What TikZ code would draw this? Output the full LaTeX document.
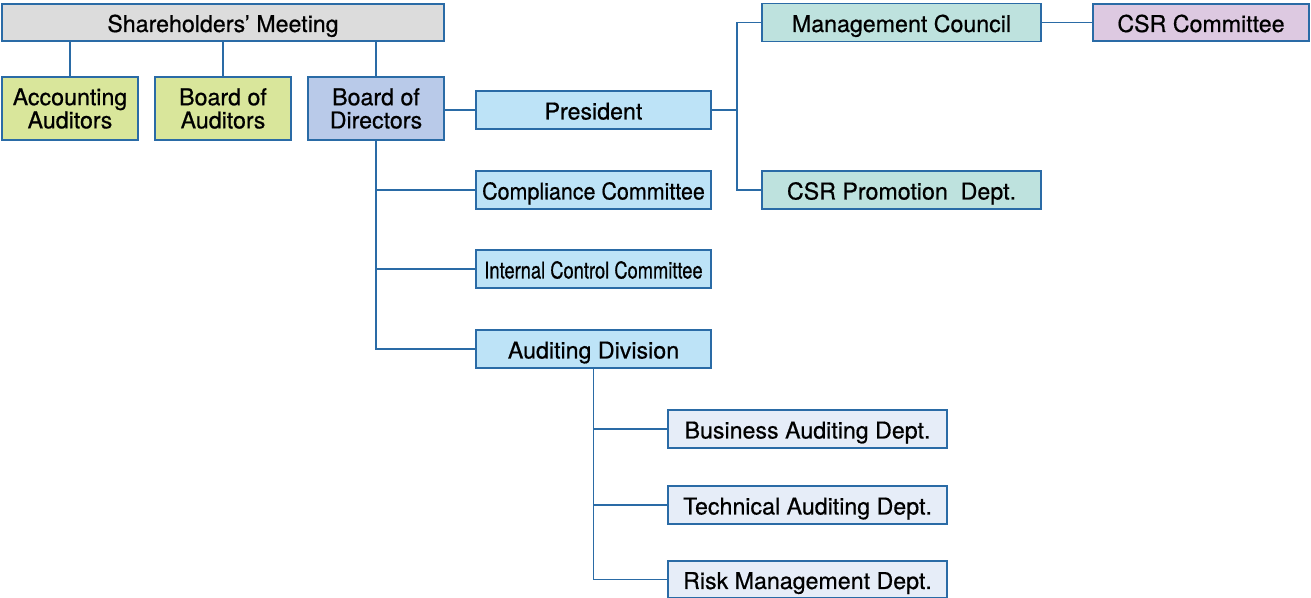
\documentclass[tikz,border=0pt]{standalone}
\usepackage{fontspec}
\setmainfont{TeX Gyre Heros}[FakeBold=0.6]
\usetikzlibrary{positioning}

\definecolor{linecol}{HTML}{2A6BA6}
\definecolor{greycol}{HTML}{DCDCDC}
\definecolor{olivecol}{HTML}{D9E69B}
\definecolor{boardcol}{HTML}{B9CAE9}
\definecolor{skycol}{HTML}{BDE3F7}
\definecolor{tealcol}{HTML}{BEE2DE}
\definecolor{lilaccol}{HTML}{DDC9E1}
\definecolor{palecol}{HTML}{E6EDF8}

\begin{document}
\begin{tikzpicture}[line width=1pt]
\tikzstyle{every node}=[font=\fontsize{13.2}{13.2}\selectfont]
\tikzstyle{unit}=[shape=rectangle,draw=linecol,inner sep=0pt,align=center,text=black]
\tikzstyle{line}=[text height=10.8pt,text depth=0pt]
\tikzstyle{wide}=[unit,line,minimum width=4.70cm,minimum height=0.76cm,fill=skycol]
\tikzstyle{tall}=[unit,minimum width=2.72cm,minimum height=1.26cm]
\tikzstyle{dept}=[unit,line,minimum width=5.58cm,minimum height=0.76cm]
\tikzstyle{link}=[draw=linecol,line width=1pt]

\useasboundingbox (0,0) rectangle (26.22,-11.96);

\node[unit,line]	(SM) at (4.46,-0.45) [minimum width=8.84cm,minimum height=0.74cm,fill=greycol] {Shareholders’ Meeting};
\node[tall]		(AA) at (1.40,-2.17) [fill=olivecol] {Accounting\\Auditors};
\node[tall]		(BA) [right of=AA,node distance=3.06cm,fill=olivecol] {Board of\\Auditors};
\node[tall]		(BD) [right of=BA,node distance=3.06cm,fill=boardcol] {Board of\\Directors};
\node[wide]		(P) at (11.87,-2.20) {President};
\node[wide]		(CC) [below of=P,node distance=1.60cm] {\scalebox{0.925}[1]{Compliance Committee}};
\node[wide]		(ICC) [below of=CC,node distance=1.58cm] {\scalebox{0.79}[1]{Internal Control Committee}};
\node[wide]		(AD) [below of=ICC,node distance=1.60cm] {Auditing Division};
\node[dept]		(MC) at (18.03,-0.45) [fill=tealcol] {Management Council};
\node[dept]		(CSRP) [below of=MC,node distance=3.35cm,fill=tealcol] {CSR Promotion\ \ Dept.};
\node[unit,line]	(CSRC) [right of=MC,node distance=5.99cm,minimum width=4.32cm,minimum height=0.74cm,fill=lilaccol] {CSR Committee};
\node[dept]		(BAD) at (16.15,-8.58) [fill=palecol] {Business Auditing Dept.};
\node[dept]		(TAD) [below of=BAD,node distance=1.52cm,fill=palecol] {Technical Auditing Dept.};
\node[dept]		(RMD) [below of=TAD,node distance=1.49cm,minimum height=0.74cm,fill=palecol] {Risk Management Dept.};

\coordinate		(pbus) at (14.74,-2.20);

\path[link]
(AA.north) edge (AA.north |- SM.south)
(BA.north) edge (BA.north |- SM.south)
(BD.north) edge (BD.north |- SM.south)
(P.west) edge (P.west -| BD.east)
(P.east) edge (pbus)
(MC) edge (CSRC)
(CC.west) edge (CC.west -| BD.south)
(ICC.west) edge (ICC.west -| BD.south)
(BAD.west) edge (BAD.west -| AD.south)
(TAD.west) edge (TAD.west -| AD.south)
;
\draw[link] (MC.west) -| (pbus) |- (CSRP.west);
\draw[link] (BD.south) |- (AD.west);
\draw[link] (AD.south) |- (RMD.west);
\end{tikzpicture}
\end{document}
